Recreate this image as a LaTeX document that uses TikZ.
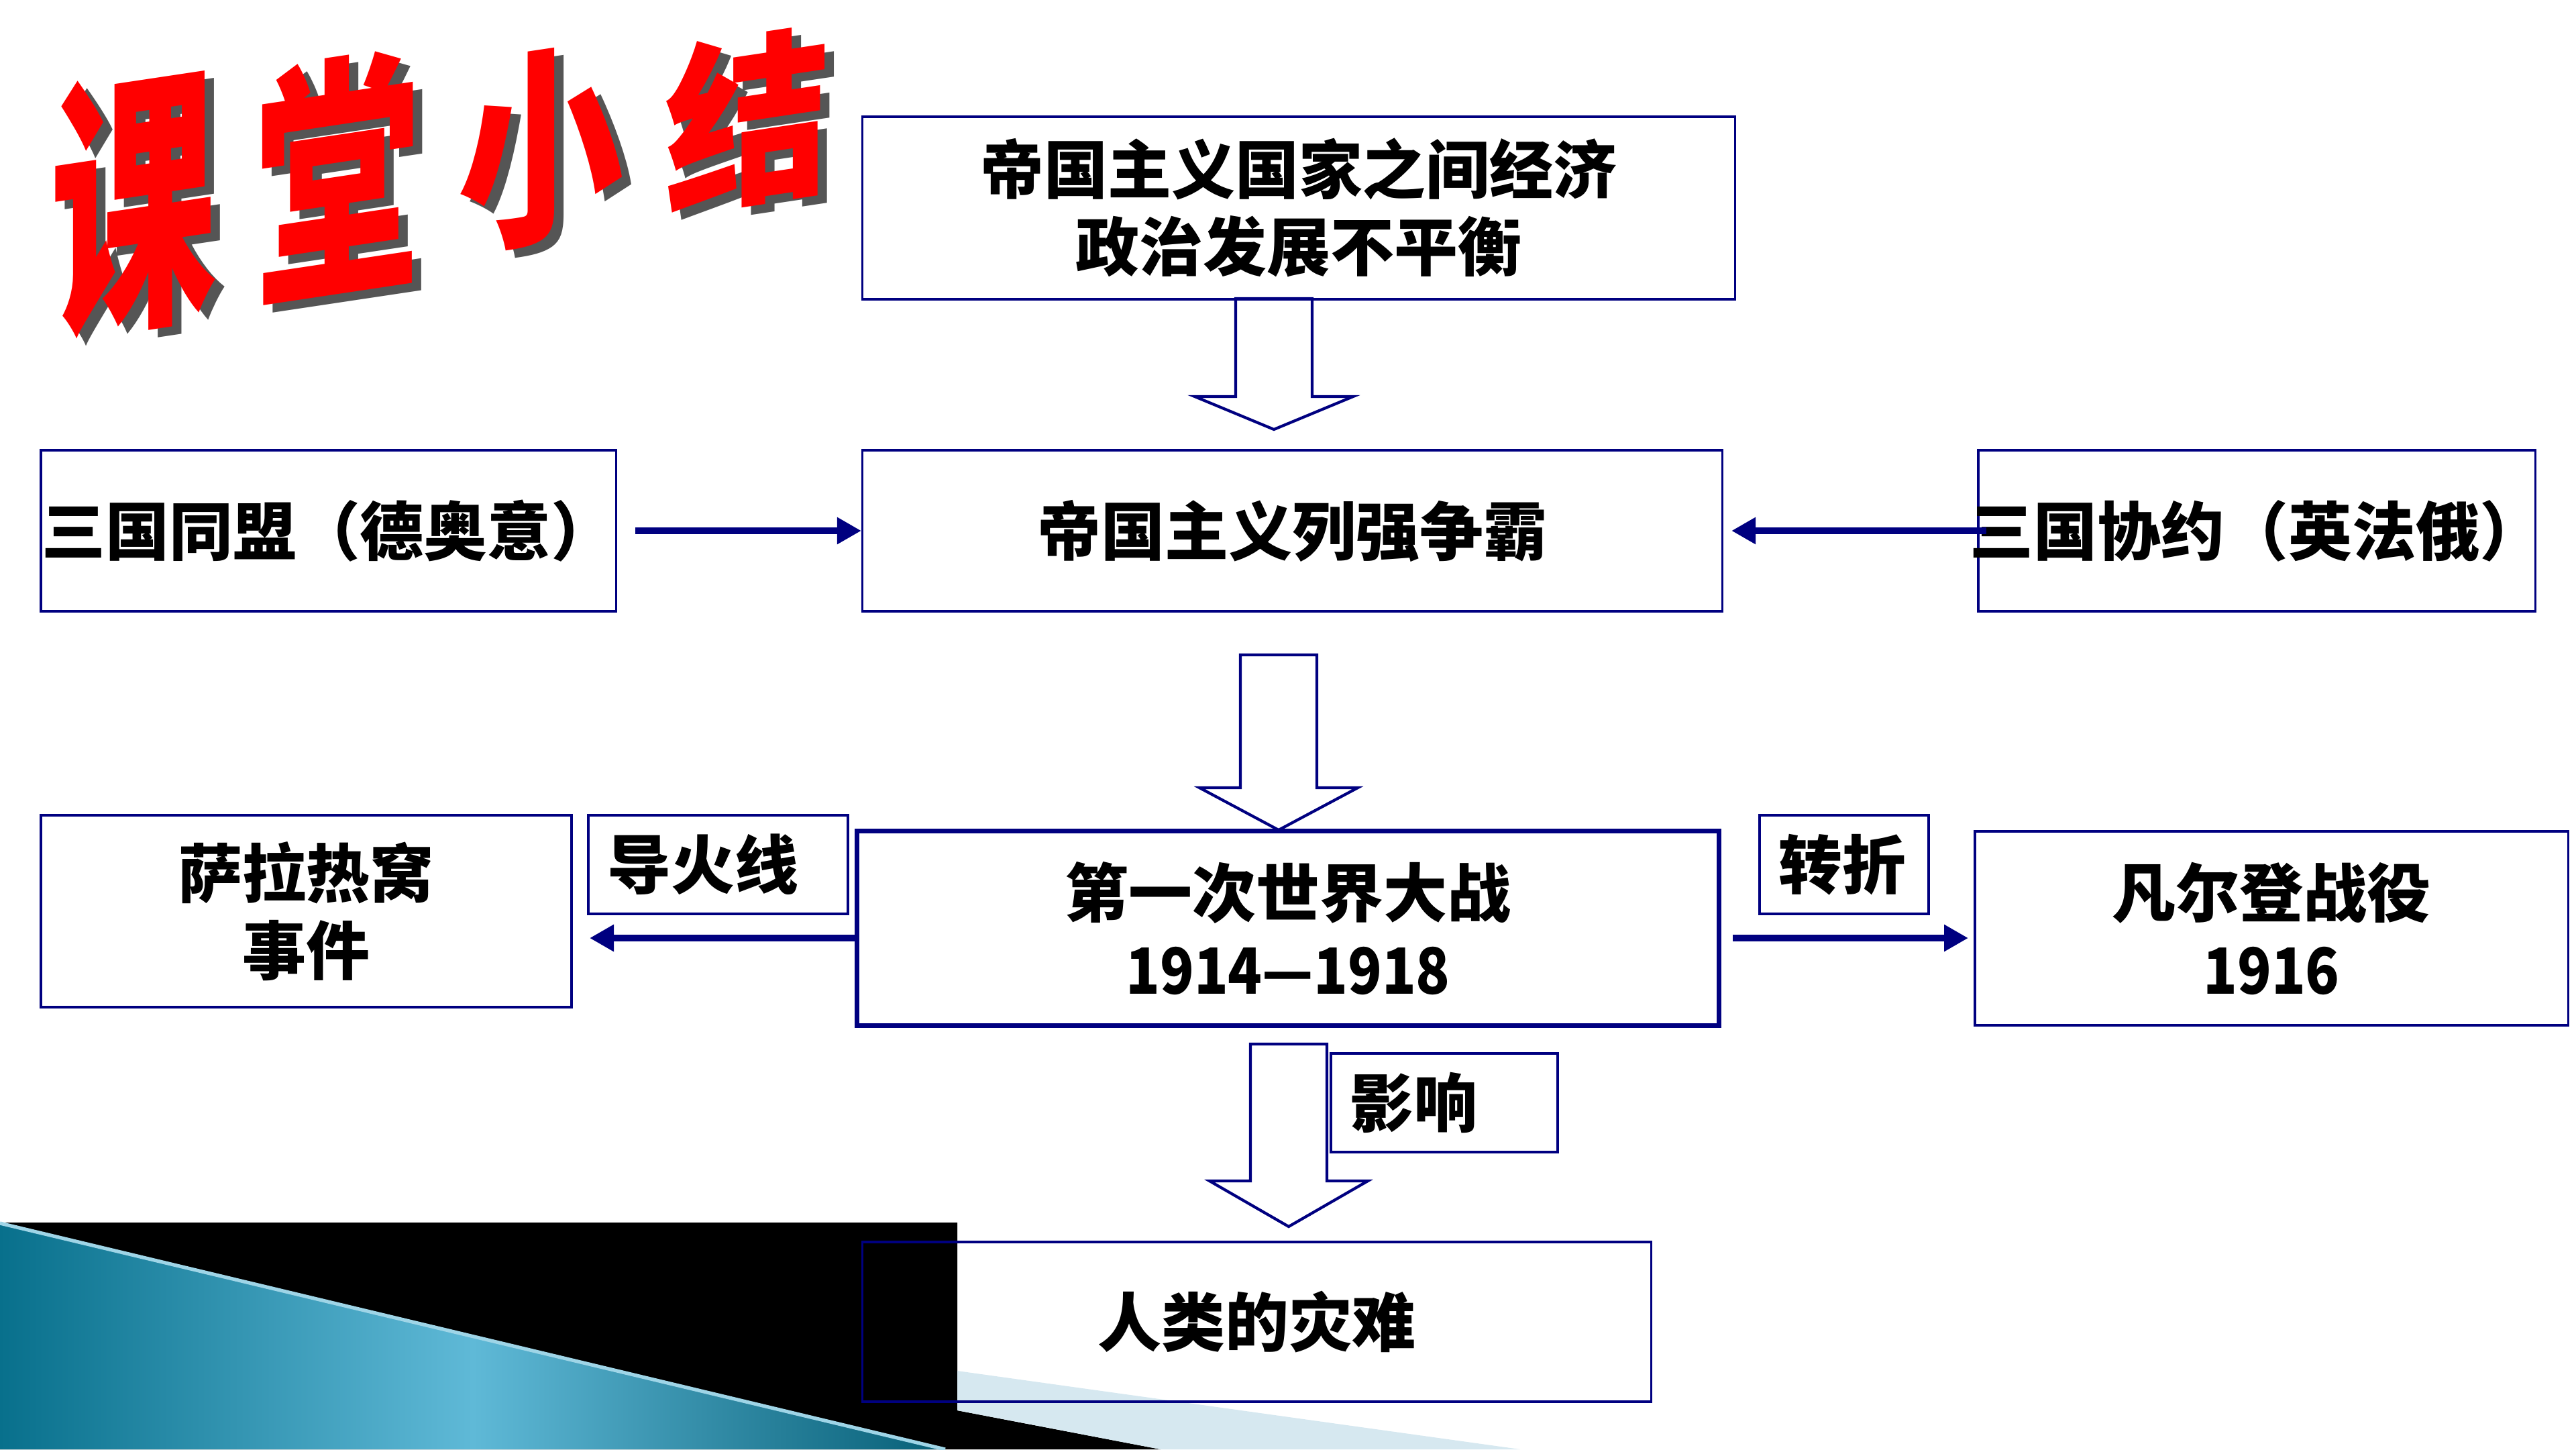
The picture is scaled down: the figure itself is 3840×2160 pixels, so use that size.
\documentclass[tikz,border=0pt]{standalone}
\usepackage{fontspec}
\setmainfont{Noto Sans CJK SC}
\usetikzlibrary{arrows.meta}
\definecolor{boxblue}{RGB}{0,0,128}
\definecolor{titlered}{RGB}{255,0,0}
\definecolor{titleshadow}{RGB}{85,85,85}
\definecolor{tealdark}{RGB}{8,112,140}
\definecolor{teallight}{RGB}{95,185,215}
\definecolor{bandblue}{RGB}{214,232,240}
\newcommand\yearspan[1]{\scalebox{0.88}[1]{#1}}

\begin{document}
\begin{tikzpicture}[x=0.01cm, y=-0.01cm,
	every node/.style={font=\bfseries\fontsize{27}{32.7}\selectfont},
	box/.style={draw=boxblue, line width=1pt, align=center, inner sep=0pt},
	tag/.style={draw=boxblue, line width=1pt, align=left, inner xsep=0.29cm, inner ysep=0pt, minimum height=1.47cm},
	flow/.style={draw=boxblue, line width=3.1pt, -{Triangle[length=0.36cm, width=0.38cm]}},
	hollow/.style={draw=boxblue, line width=1.2pt, fill=white, line join=miter},
	titlechar/.style={font=\bfseries\fontsize{74}{74}\selectfont, inner sep=0pt, yslant=0.15, xscale=0.95}]
	\useasboundingbox (0,0) rectangle (3840,2160);
	% corner decoration
	\fill[black] (0,1822) -- (1427,1822) -- (1427,2102) -- (1730,2160) -- (0,2160) -- cycle;
	\fill[bandblue] (1427,2043) -- (2266,2160) -- (1730,2160) -- (1427,2102) -- cycle;
	\shade[left color=tealdark, right color=tealdark!85!black, middle color=teallight] (0,1823) -- (1409,2160) -- (0,2160) -- cycle;
	\draw[teallight!60!white, line width=1.5pt] (0,1823) -- (1409,2160);
	% title
	\foreach \ch/\cx/\cy/\ys [count=\i] in {课/199/302/1.58, 堂/503/262/1.47, 小/806/220/1.20, 结/1115/179/1.04} {
		\node[titlechar, text=titleshadow, yscale=\ys] (shade\i) at (\cx+14,\cy+11) {\ch};
		\node[titlechar, text=titlered, yscale=\ys] (title\i) at (\cx,\cy) {\ch};
	}
	% hollow arrows
	\foreach \cx/\top/\base/\tip in {1899/445/591/640, 1906/976/1174/1237, 1921/1556/1760/1828}
		\draw[hollow] (\cx-57,\top) -- (\cx+57,\top) -- (\cx+57,\base) -- (\cx+118,\base) -- (\cx,\tip) -- (\cx-118,\base) -- (\cx-57,\base) -- cycle;
	% boxes
	\node[box, minimum width=13cm, minimum height=2.72cm] (cause) at (1936,310) {帝国主义国家之间经济\\政治发展不平衡};
	\node[box, minimum width=12.81cm, minimum height=2.4cm] (rivalry) at (1926.5,791) {帝国主义列强争霸};
	\node[box, minimum height=2.4cm] (triple) at (489.5,791) {\makebox[8.57cm]{三国同盟（德奥意）}};
	\node[box, minimum height=2.4cm] (entente) at (3364,791) {\makebox[8.3cm]{三国协约（英法俄）}};
	\node[box, line width=2pt, minimum width=12.84cm, minimum height=2.89cm] (war) at (1920,1383.5) {第一次世界大战\\\yearspan{1914—1918}};
	\node[box, minimum width=7.91cm, minimum height=2.86cm] (sarajevo) at (456.5,1358) {萨拉热窝\\事件};
	\node[box, minimum width=8.84cm, minimum height=2.89cm] (verdun) at (3386,1383.5) {凡尔登战役\\\yearspan{1916}};
	\node[box, minimum width=11.75cm, minimum height=2.38cm] (disaster) at (1873.5,1970) {人类的灾难};
	\node[tag, text width=3.29cm] (fuse) at (1070.5,1288.5) {导火线};
	\node[tag, text width=1.94cm] (turn) at (2749,1288.5) {转折};
	\node[tag, text width=2.80cm] (impact) at (2153,1643.5) {影响};
	% connectors
	\draw[flow, shorten <=0.27cm] (triple) -- (rivalry);
	\draw[flow, shorten <=-0.14cm, shorten >=0.12cm] (entente) -- (rivalry);
	\coordinate (fuseStart) at ([yshift=-0.145cm]war.west);
	\coordinate (turnStart) at ([yshift=-0.145cm]war.east);
	\draw[flow, shorten >=0.25cm] (fuseStart) -- (fuseStart -| sarajevo.east);
	\draw[flow, shorten <=0.17cm, shorten >=0.08cm] (turnStart) -- (turnStart -| verdun.west);
\end{tikzpicture}
\end{document}
